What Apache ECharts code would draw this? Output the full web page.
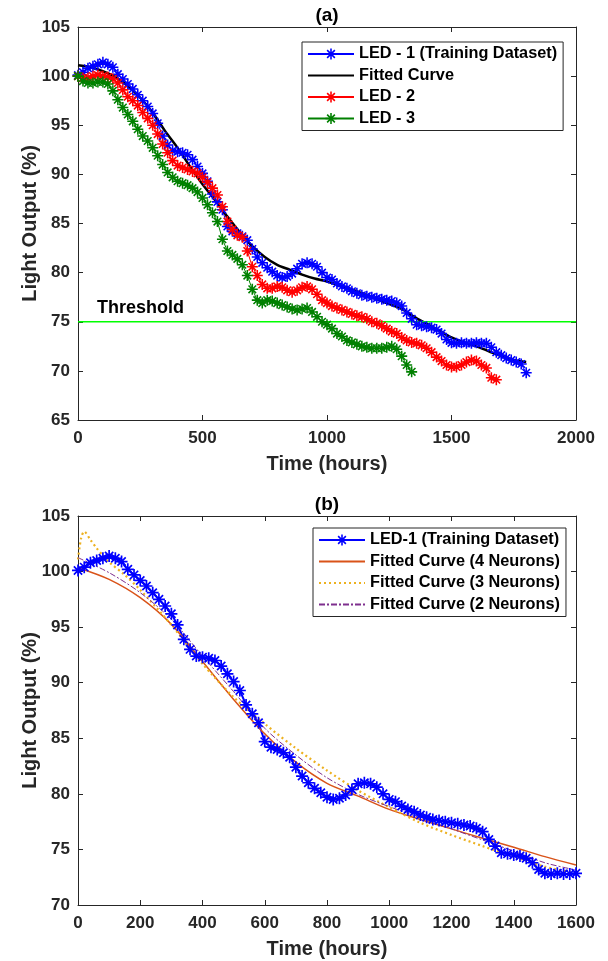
<!DOCTYPE html>
<html>
<head>
<meta charset="utf-8">
<script src="https://cdn.jsdelivr.net/npm/echarts@6/dist/echarts.min.js"></script>
<style>
  html, body { margin: 0; padding: 0; background: #fff; }
  #chart { width: 608px; height: 961px; }
</style>
</head>
<body>
<div id="chart"></div>
<script>
// measured light output (%), one sample every 20 hours
var stepHours = 20;
var led1 = [
  100.1,100.4,100.8,101.0,101.2,101.4,101.2,100.9,100.2,99.7,
  99.2,98.7,98.1,97.5,96.9,96.2,95.2,93.9,93.0,92.4,
  92.3,92.2,92.0,91.5,90.8,90.1,89.3,88.0,87.2,86.4,
  84.7,84.2,84.0,83.7,83.3,82.4,81.6,81.0,80.5,80.1,
  79.7,79.5,79.6,79.9,80.4,80.9,81.0,80.9,80.6,80.0,
  79.5,79.3,78.9,78.6,78.4,78.1,77.9,77.7,77.6,77.5,
  77.4,77.3,77.2,77.1,76.9,76.6,75.9,75.3,74.7,74.6,
  74.5,74.4,74.2,73.8,73.2,72.85,72.8,72.85,72.8,72.8,
  72.85,72.8,72.8,72.4,71.9,71.6,71.3,71.1,70.9,70.7,
  69.8
];
var led2 = [
  100.0,99.8,99.8,100.0,100.1,100.0,99.9,99.7,99.3,98.6,
  97.9,97.5,97.0,96.3,95.7,95.0,94.1,93.1,92.2,91.4,
  90.9,90.7,90.5,90.3,90.1,89.7,89.2,88.6,87.9,86.7,
  85.2,84.4,83.8,83.6,82.2,80.6,79.7,78.8,78.4,78.4,
  78.6,78.5,78.2,78.0,78.2,78.5,78.6,78.3,77.8,77.2,
  76.9,76.6,76.4,76.2,76.0,75.8,75.6,75.5,75.3,75.0,
  74.85,74.6,74.3,74.0,73.8,73.4,73.1,72.9,72.8,72.6,
  72.3,71.9,71.4,71.0,70.6,70.4,70.4,70.6,70.9,71.1,
  71.0,70.6,70.3,69.3,69.1
];
var led3 = [
  100.0,99.5,99.3,99.3,99.4,99.4,99.2,98.5,97.6,96.8,
  96.1,95.4,94.6,93.9,93.4,92.7,91.9,91.0,90.2,89.7,
  89.3,89.1,88.9,88.6,88.2,87.6,86.9,86.1,85.2,83.4,
  82.2,81.8,81.4,80.8,79.7,78.3,77.2,76.9,77.2,77.1,
  76.9,76.7,76.5,76.3,76.2,76.3,76.4,76.0,75.5,75.0,
  74.7,74.3,73.8,73.5,73.1,72.9,72.7,72.5,72.4,72.3,
  72.3,72.3,72.4,72.5,72.2,71.5,70.6,69.9
];

// fitted curve of plot (a)
var fitHours = [0,50,100,150,200,250,300,350,400,450,500,550,600,650,700,750,800,850,900,
  950,1000,1050,1100,1150,1200,1250,1300,1350,1400,1450,1500,1550,1600,1650,1700,1750,1800];
var fitA = [101.1,100.9,100.5,99.9,99.0,97.8,96.3,94.4,92.7,90.8,89.0,87.4,85.7,84.1,82.7,81.6,80.8,80.3,79.8,
  79.4,79.1,78.7,78.3,77.8,77.3,76.8,76.3,75.5,74.8,74.1,73.4,72.9,72.5,72.0,71.5,71.1,70.9];

// neural network fits of plot (b)
var nnHours = [0,100,200,300,400,500,600,700,800,900,1000,1100,1200,1300,1400,1500,1600];
var fit4 = [100.35,99.3,97.65,95.25,91.9,88.5,85.4,82.85,80.95,79.8,78.6,77.7,76.85,76.0,75.2,74.35,73.6];
var fit2 = [101.25,99.9,98.1,95.7,92.4,89.2,85.9,83.5,81.45,79.95,78.85,77.85,76.85,75.85,74.85,73.8,73.15];
var fit3Hours = [0,10,20,40,60,80,100,150,200,300,400,500,600,700,800,900,1000,1100,1200,1300,1400,1500,1600];
var fit3 = [101.1,103.0,103.6,102.85,102.1,101.45,100.85,99.7,98.35,95.2,91.7,88.7,86.3,84.1,82.1,80.3,78.8,77.4,76.3,75.3,74.35,73.45,72.85];

var thresholdValue = 75;

var FONT = '"Liberation Sans", Arial, sans-serif';
var AX = '#262626';
// MATLAB style asterisk marker
var STAR = 'path://M0 8.6L20 8.6L20 11.4L0 11.4Z M8.6 0L11.4 0L11.4 20L8.6 20Z ' +
           'M2.1 4.1L4.1 2.1L17.9 15.9L15.9 17.9Z M15.9 2.1L17.9 4.1L4.1 17.9L2.1 15.9Z';

function pairs(xs, ys) {
  return ys.map(function (v, i) { return [xs[i], v]; });
}
function sampled(ys, upTo) {
  var out = [];
  ys.forEach(function (v, i) {
    var t = i * stepHours;
    if (upTo == null || t <= upTo) out.push([t, v]);
  });
  return out;
}
function plain(v) { return String(v); }

function boxAxes(grid, xMax, xInt, yMin, yMax, title) {
  var tick = { show: true, inside: true, length: 5, lineStyle: { color: AX, width: 1 } };
  var line = { show: true, onZero: false, lineStyle: { color: AX, width: 1 } };
  return {
    x: [{
      type: 'value', gridIndex: grid, position: 'bottom', min: 0, max: xMax, interval: xInt,
      name: 'Time (hours)', nameLocation: 'middle', nameGap: 34,
      nameTextStyle: { fontSize: 20, fontWeight: 'bold', color: AX, fontFamily: FONT },
      axisLine: line, axisTick: tick, splitLine: { show: false },
      axisLabel: { fontSize: 17, fontWeight: 'bold', color: AX, fontFamily: FONT, margin: 10, formatter: plain }
    }, {
      type: 'value', gridIndex: grid, position: 'top', min: 0, max: xMax, interval: xInt,
      name: title, nameLocation: 'middle', nameGap: 2,
      nameTextStyle: { fontSize: 19, fontWeight: 'bold', color: '#000', fontFamily: FONT },
      axisLine: line, axisTick: tick, splitLine: { show: false }, axisLabel: { show: false }
    }],
    y: [{
      type: 'value', gridIndex: grid, position: 'left', min: yMin, max: yMax, interval: 5,
      name: 'Light Output (%)', nameLocation: 'middle', nameGap: 38, nameMoveOverlap: false,
      nameTextStyle: { fontSize: 20, fontWeight: 'bold', color: AX, fontFamily: FONT },
      axisLine: line, axisTick: tick, splitLine: { show: false },
      axisLabel: { fontSize: 17, fontWeight: 'bold', color: AX, fontFamily: FONT, margin: 8, formatter: plain }
    }, {
      type: 'value', gridIndex: grid, position: 'right', min: yMin, max: yMax, interval: 5,
      axisLine: line, axisTick: tick, splitLine: { show: false }, axisLabel: { show: false }
    }]
  };
}

var axA = boxAxes(0, 2000, 500, 65, 105, '(a)');
var axB = boxAxes(1, 1600, 200, 70, 105, '(b)');

// legend entries: curves (no marker) hide the legend symbol
function entry(name, isCurve) {
  return isCurve ? { name: name, itemStyle: { opacity: 0 } } : { name: name };
}
function legendBox(items, left, top) {
  return {
    data: items, orient: 'vertical', left: left, top: top,
    backgroundColor: '#fff', borderColor: AX, borderWidth: 1, borderRadius: 0,
    padding: [4, 6, 4, 5], itemGap: 5.5, itemWidth: 46, itemHeight: 14,
    textStyle: { fontSize: 16.3, fontWeight: 'bold', color: '#000', fontFamily: FONT, lineHeight: 16 }
  };
}

function starSeries(name, data, color, xi, yi, size, width) {
  return {
    name: name, type: 'line', xAxisIndex: xi, yAxisIndex: yi, data: data,
    symbol: STAR, symbolSize: size, showSymbol: true,
    itemStyle: { color: color, borderWidth: 0 },
    lineStyle: { color: color, width: width }
  };
}
function curveSeries(name, xs, ys, color, width, type, xi, yi) {
  return {
    name: name, type: 'line', xAxisIndex: xi, yAxisIndex: yi, data: pairs(xs, ys),
    symbol: 'none', smooth: 0.3,
    itemStyle: { color: color },
    lineStyle: { color: color, width: width, type: type }
  };
}

var chart = echarts.init(document.getElementById('chart'));
chart.setOption({
  animation: false,
  backgroundColor: '#fff',
  grid: [
    { left: 78, right: 32, top: 27, height: 393 },
    { left: 78, right: 32, top: 516, height: 389 }
  ],
  xAxis: axA.x.concat(axB.x),
  yAxis: axA.y.concat(axB.y),
  legend: [
    legendBox([entry('LED - 1 (Training Dataset)'), entry('Fitted Curve', true), entry('LED - 2'), entry('LED - 3')], 302, 42),
    legendBox([entry('LED-1 (Training Dataset)'), entry('Fitted Curve (4 Neurons)', true),
               entry('Fitted Curve (3 Neurons)', true), entry('Fitted Curve (2 Neurons)', true)], 313, 528)
  ],
  series: [
    starSeries('LED - 1 (Training Dataset)', sampled(led1), '#0000FF', 0, 0, 11, 1),
    starSeries('LED - 2', sampled(led2), '#FF0000', 0, 0, 11, 1),
    curveSeries('Fitted Curve', fitHours, fitA, '#000000', 2.5, 'solid', 0, 0),
    starSeries('LED - 3', sampled(led3), '#008000', 0, 0, 11, 1),
    {
      name: 'Threshold', type: 'line', xAxisIndex: 0, yAxisIndex: 0,
      data: [[0, thresholdValue], [2000, thresholdValue]], symbol: 'none',
      lineStyle: { color: '#00FF00', width: 1.5 },
      markPoint: {
        symbol: 'circle', symbolSize: 0, silent: true,
        data: [{ coord: [0, thresholdValue] }],
        label: { show: true, formatter: 'Threshold', position: 'right', offset: [14, -14],
                 fontSize: 18, fontWeight: 'bold', color: '#000', fontFamily: FONT }
      }
    },
    starSeries('LED-1 (Training Dataset)', sampled(led1, 1600), '#0000FF', 2, 2, 12, 2),
    curveSeries('Fitted Curve (4 Neurons)', nnHours, fit4, '#D95319', 1.5, 'solid', 2, 2),
    curveSeries('Fitted Curve (3 Neurons)', fit3Hours, fit3, '#EDB120', 2.2, [2, 3], 2, 2),
    curveSeries('Fitted Curve (2 Neurons)', nnHours, fit2, '#7E2F8E', 1, [6, 2, 2, 2], 2, 2)
  ]
});
</script>
</body>
</html>
